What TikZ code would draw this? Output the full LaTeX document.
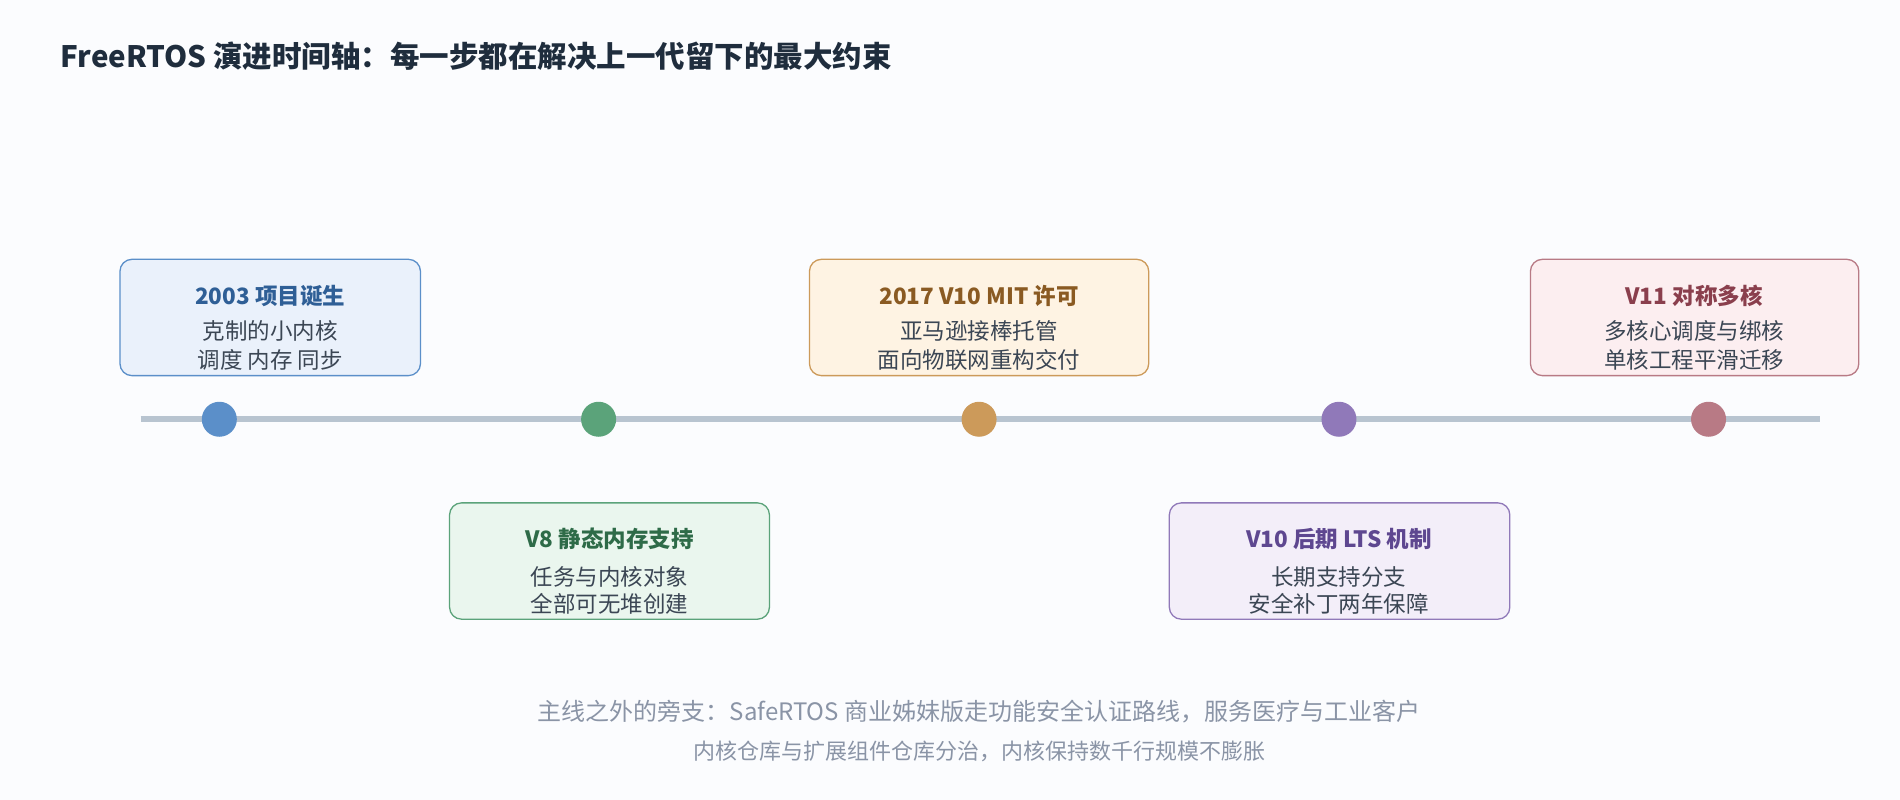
\documentclass[tikz,border=0pt]{standalone}
\usepackage{fontspec}
\setmainfont{Noto Sans CJK SC}
\begin{document}
\begin{tikzpicture}[x=1.2117pt,y=-1.2117pt,
 box/.style={draw=#1, line width=1.3pt, rounded corners=12pt},
 dot/.style={circle, fill=#1, minimum size=35pt, inner sep=0pt},
 ttl/.style={font=\bfseries\fontsize{22.5}{26}\selectfont, text=#1},
 bd/.style={font=\fontsize{22.5}{26}\selectfont, text=txt}]
\definecolor{txt}{HTML}{3B4654}
\definecolor{hd}{HTML}{1F2D3D}
\definecolor{ft}{HTML}{8A94A6}
\definecolor{bg}{HTML}{FBFCFE}
\definecolor{cb}{HTML}{5B8FC9}\definecolor{fb}{HTML}{EAF1FB}\definecolor{tb}{HTML}{2F5F96}
\definecolor{cg}{HTML}{5BA37A}\definecolor{fg}{HTML}{EAF6EE}\definecolor{tg}{HTML}{2E6B48}
\definecolor{co}{HTML}{CC9A5A}\definecolor{fo}{HTML}{FEF3E3}\definecolor{to}{HTML}{8A5A22}
\definecolor{cp}{HTML}{9079B9}\definecolor{fp}{HTML}{F3EEF9}\definecolor{tp}{HTML}{5E4790}
\definecolor{cr}{HTML}{B87A85}\definecolor{fr}{HTML}{FCEEF0}\definecolor{tr}{HTML}{8A3F4D}
\definecolor{ln}{HTML}{B8C4D0}
\fill[bg] (0,0) rectangle (1568,660);
\useasboundingbox (0,0) rectangle (1568,660);
\node[anchor=west, inner sep=0pt, font=\bfseries\fontsize{29.5}{34}\selectfont, text=hd] (title) at (50,46) {FreeRTOS 演进时间轴：每一步都在解决上一代留下的最大约束};
\coordinate (ls) at (116,346); \coordinate (le) at (1502,346);
\draw[ln, line width=6pt] (ls) -- (le);
\node[dot=cb] (d1) at (181,346) {};
\node[dot=cg] (d2) at (494,346) {};
\node[dot=co] (d3) at (808,346) {};
\node[dot=cp] (d4) at (1105,346) {};
\node[dot=cr] (d5) at (1410,346) {};
\filldraw[box=cb, fill=fb] (99,214) rectangle (347,310);
\node[ttl=tb] (t1) at (223,244) {2003 项目诞生};
\node[bd] (a1) at (223,273) {克制的小内核};
\node[bd] (b1) at (223,297) {调度 内存 同步};
\filldraw[box=cg, fill=fg] (371,415) rectangle (635,511);
\node[ttl=tg] (t2) at (503,445) {V8 静态内存支持};
\node[bd] (a2) at (503,476) {任务与内核对象};
\node[bd] (b2) at (503,498) {全部可无堆创建};
\filldraw[box=co, fill=fo] (668,214) rectangle (948,310);
\node[ttl=to] (t3) at (808,244) {2017 V10 MIT 许可};
\node[bd] (a3) at (808,273) {亚马逊接棒托管};
\node[bd] (b3) at (808,297) {面向物联网重构交付};
\filldraw[box=cp, fill=fp] (965,415) rectangle (1246,511);
\node[ttl=tp] (t4) at (1105,445) {V10 后期 LTS 机制};
\node[bd] (a4) at (1105,476) {长期支持分支};
\node[bd] (b4) at (1105,498) {安全补丁两年保障};
\filldraw[box=cr, fill=fr] (1263,214) rectangle (1534,310);
\node[ttl=tr] (t5) at (1398,244) {V11 对称多核};
\node[bd] (a5) at (1398,273) {多核心调度与绑核};
\node[bd] (b5) at (1398,297) {单核工程平滑迁移};
\node[font=\fontsize{24}{28}\selectfont, text=ft] (f1) at (808,587) {主线之外的旁支：SafeRTOS 商业姊妹版走功能安全认证路线，服务医疗与工业客户};
\node[font=\fontsize{22}{26}\selectfont, text=ft] (f2) at (808,620) {内核仓库与扩展组件仓库分治，内核保持数千行规模不膨胀};
\end{tikzpicture}
\end{document}
